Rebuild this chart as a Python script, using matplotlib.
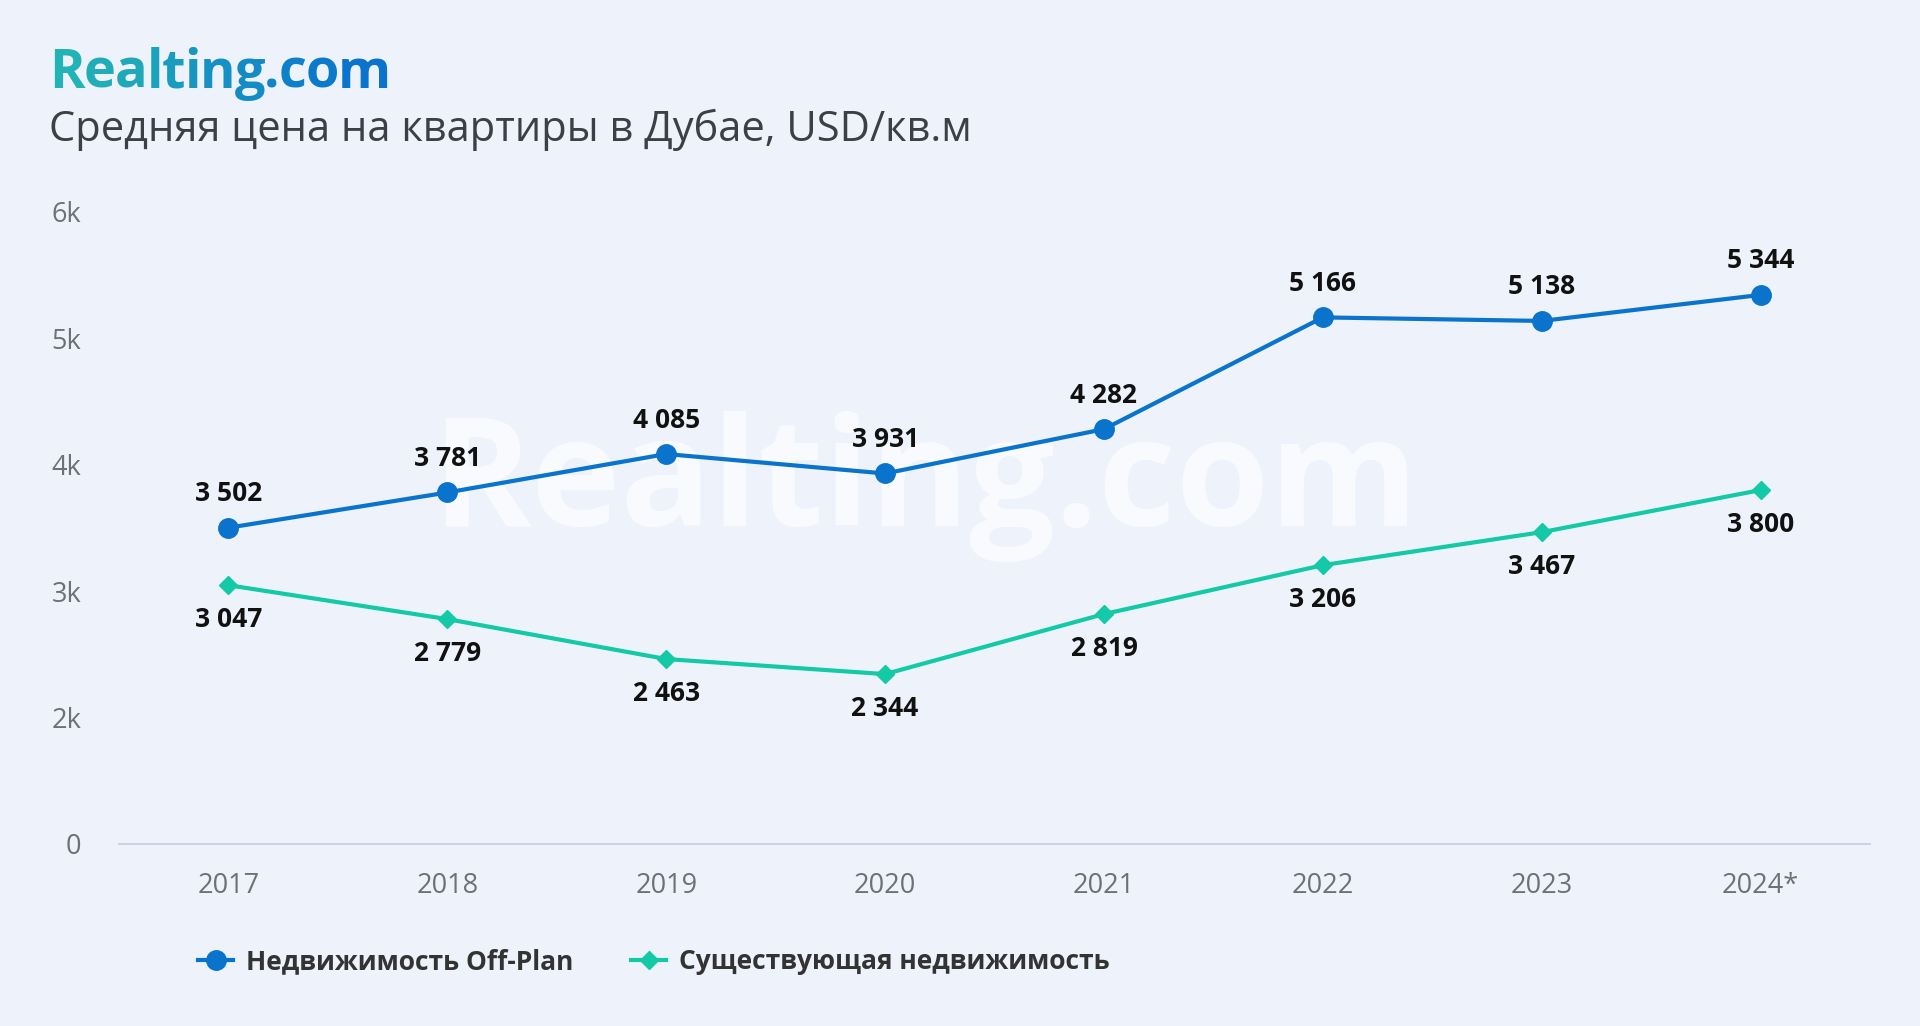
import matplotlib.pyplot as plt
import matplotlib.colors as mcolors
import numpy as np

years = ['2017', '2018', '2019', '2020', '2021', '2022', '2023', '2024*']
off_plan = [3502, 3781, 4085, 3931, 4282, 5166, 5138, 5344]
existing = [3047, 2779, 2463, 2344, 2819, 3206, 3467, 3800]
# the bottom gridline of the source chart sits at 1k but is labelled "0"
yticks = [1000, 2000, 3000, 4000, 5000, 6000]
ytick_labels = ['0', '2k', '3k', '4k', '5k', '6k']

bg = '#eef3fb'
blue = '#0a73cc'
teal = '#14c9a6'

plt.rcParams['font.family'] = ['Open Sans', 'DejaVu Sans']

fig = plt.figure(figsize=(19.2, 10.26), dpi=100, facecolor=bg)
ax = fig.add_axes([0.062, 0.1774, 0.912, 0.616], facecolor=bg)

x = np.arange(len(years))

# watermark
ax.text(0.46, 0.565, 'Realting.com', transform=ax.transAxes, fontsize=109,
        fontweight='bold', color='white', alpha=0.6, ha='center', va='center', zorder=0)

ax.plot(x, off_plan, color=blue, lw=3.0, marker='o', ms=14, zorder=3,
        label='Недвижимость Off-Plan')
ax.plot(x, existing, color=teal, lw=3.0, marker='D', ms=9.5, zorder=3,
        label='Существующая недвижимость')

def fmt(v):
    return f'{v:,}'.replace(',', ' ')

for xi, v in zip(x, off_plan):
    ax.annotate(fmt(v), (xi, v), xytext=(0, 24.5), textcoords='offset points',
                ha='center', va='center', fontsize=19, fontweight='bold', color='#111111')
for xi, v in zip(x, existing):
    ax.annotate(fmt(v), (xi, v), xytext=(0, -24.5), textcoords='offset points',
                ha='center', va='center', fontsize=19, fontweight='bold', color='#111111')

ax.set_xlim(-0.5, 7.5)
ax.set_ylim(1000, 6000)
ax.set_xticks(x)
ax.set_xticklabels(years)
ax.set_yticks(yticks)
ax.set_yticklabels(ytick_labels)
ax.tick_params(axis='both', length=0, labelsize=19.5, labelcolor='#6e7076')
ax.tick_params(axis='x', pad=20)
ax.tick_params(axis='y', pad=27)
for s in ['top', 'right', 'left']:
    ax.spines[s].set_visible(False)
ax.spines['bottom'].set_color('#cdd2e6')
ax.spines['bottom'].set_linewidth(1.5)

# gradient logo title, drawn letter by letter
title = 'Realting.com'
c0 = np.array(mcolors.to_rgb('#22b3b6'))
c1 = np.array(mcolors.to_rgb('#0a74cd'))
renderer = fig.canvas.get_renderer()
xpos = 49
for i, ch in enumerate(title):
    col = c0 + (c1 - c0) * i / (len(title) - 1)
    t = fig.text(xpos, 1026 - 74, ch, transform=None, fontsize=39, fontweight='bold',
                 color=col, ha='left', va='center')
    xpos = t.get_window_extent(renderer).x1 - 1

fig.text(0.0255, 0.873, 'Средняя цена на квартиры в Дубае, USD/кв.м', fontsize=30,
         color='#3c3f45', ha='left', va='center')

leg = fig.legend(loc='center left', bbox_to_anchor=(0.091, 0.0625), ncol=2, frameon=False,
                 fontsize=19, handlelength=1.3, columnspacing=2.2, handletextpad=0.5)
for t in leg.get_texts():
    t.set_fontweight('bold')
    t.set_color('#333333')

fig.savefig('out.png', dpi=100, facecolor=bg)
